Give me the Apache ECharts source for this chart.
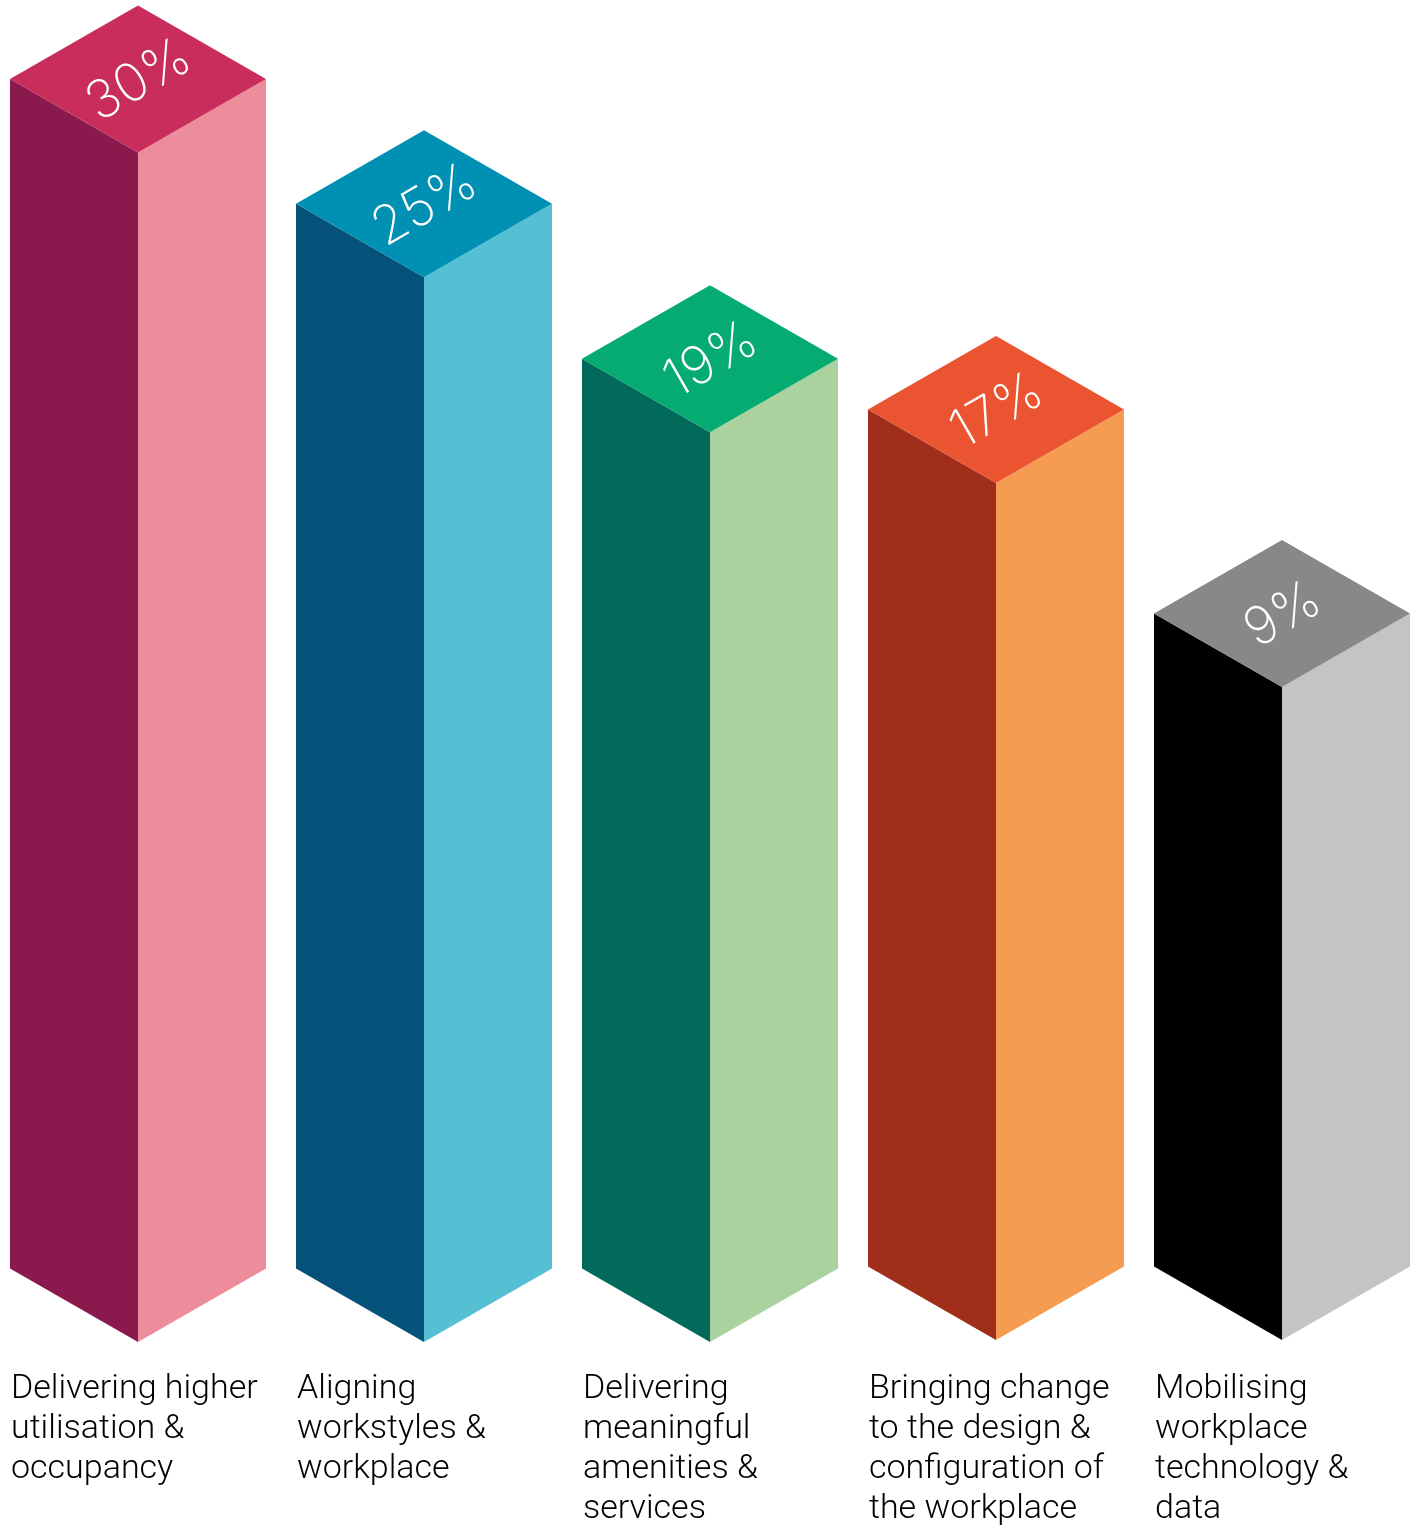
<!DOCTYPE html>
<html>
<head>
<meta charset="utf-8">
<style>html,body{margin:0;padding:0;background:#fff}#c{width:1417px;height:1535px}</style>
<script src="https://cdn.jsdelivr.net/npm/echarts@6/dist/echarts.min.js"></script>
</head>
<body>
<div id="c"></div>
<script>
const categories = [
  "Delivering higher\nutilisation &\noccupancy",
  "Aligning\nworkstyles &\nworkplace",
  "Delivering\nmeaningful\namenities &\nservices",
  "Bringing change\nto the design &\nconfiguration of\nthe workplace",
  "Mobilising\nworkplace\ntechnology &\ndata"
];
const values = [30, 25, 19, 17, 9];
const topColors = ["#C92D5C", "#0090B4", "#06AB72", "#EA5430", "#888888"];
const leftColors = ["#8A1A4E", "#04527A", "#016A5A", "#A02E1B", "#000000"];
const rightColors = ["#ED8D9C", "#55BFD3", "#A9D29F", "#F69C52", "#C4C4C4"];

const HALF_W = 128, RISE = 73.5, AXIS_MIN = -16.7;
const BASE_NUDGE = [0, 0, 0, -2, -2];
const TOP_NUDGE = [0, -2.5, -0.5, -0.5, -0.5];
const FONT = 'Roboto,"Liberation Sans",sans-serif';
const PCT_FONT = 'Inter,Roboto,sans-serif';

function renderItem(params, api) {
  const i = api.value(0), v = api.value(1);
  const t = api.coord([i, v]);
  const b = api.coord([i, AXIS_MIN]);
  const cx = t[0], ty = t[1] + TOP_NUDGE[i], by = b[1] + BASE_NUDGE[i];
  const poly = (points, fill) => ({
    type: 'polygon', shape: { points }, style: { fill, stroke: null }
  });
  return {
    type: 'group',
    children: [
      poly([[cx - HALF_W, ty - RISE], [cx, ty], [cx, by], [cx - HALF_W, by - RISE]], leftColors[i]),
      poly([[cx + HALF_W, ty - RISE], [cx, ty], [cx, by], [cx + HALF_W, by - RISE]], rightColors[i]),
      poly([[cx, ty - 2 * RISE], [cx + HALF_W, ty - RISE], [cx, ty], [cx - HALF_W, ty - RISE]], topColors[i]),
      {
        type: 'text', x: cx + 1, y: ty - RISE + 2, rotation: Math.PI / 6,
        style: {
          text: v + '%', fill: '#fff', textAlign: 'center', textVerticalAlign: 'middle',
          font: '200 53px ' + PCT_FONT
        }
      },
      {
        type: 'text', x: cx - HALF_W + 1, y: 1369.5,
        style: {
          text: categories[i], fill: '#000', textAlign: 'left', textVerticalAlign: 'top',
          font: '300 34px ' + FONT, lineHeight: 40
        }
      }
    ]
  };
}

const chart = echarts.init(document.getElementById('c'), null, { renderer: 'canvas' });
chart.setOption({
  animation: false,
  backgroundColor: '#fff',
  grid: { left: 0, right: 0, top: 152.5, bottom: 193 },
  xAxis: { type: 'value', min: -0.4825, max: 4.472, show: false },
  yAxis: { type: 'value', min: AXIS_MIN, max: 30, show: false },
  series: [{
    type: 'custom',
    clip: false,
    renderItem,
    encode: { x: 0, y: 1 },
    data: values.map((v, i) => [i, v])
  }]
});
</script>
</body>
</html>
